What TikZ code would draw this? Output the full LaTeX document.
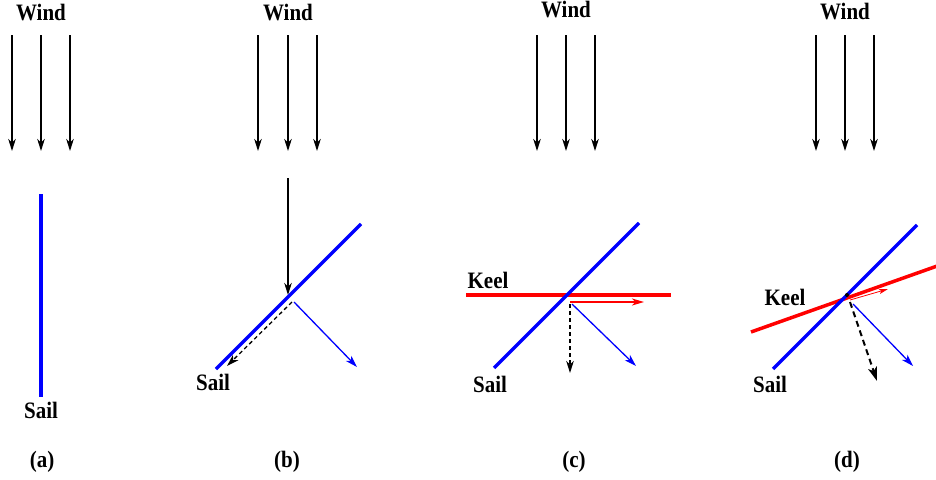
\documentclass[tikz,border=0pt]{standalone}
\usepackage{fontspec}
\usepackage{graphicx}
\setmainfont{Liberation Serif}
\usetikzlibrary{arrows.meta}
\newcommand{\tall}[1]{\scalebox{1}[1.12]{#1}}
\begin{document}
\begin{tikzpicture}[x=1pt,y=-1pt,
  lbl/.style={font=\fontsize{21}{25}\selectfont\bfseries, inner sep=0pt},
  windarrow/.style={draw=black, line width=1.4pt, -{Stealth[length=12pt,width=7.5pt,inset=3.5pt]}},
  sail/.style={draw=blue, line width=3.5pt},
  keel/.style={draw=red, line width=3.5pt},
  bluearrow/.style={draw=blue, line width=1.3pt, -{Stealth[length=12pt,width=7.5pt,inset=3.5pt]}},
  redarrow/.style={draw=red, line width=1.3pt, -{Stealth[length=12pt,width=7pt,inset=3.5pt]}},
  thinred/.style={draw=red, line width=0.8pt, -{Stealth[length=9pt,width=5pt,inset=2pt]}},
  dasharrow/.style={draw=black, line width=1.3pt, dash pattern=on 4pt off 3pt, -{Stealth[length=12pt,width=7.5pt,inset=3.5pt]}},
  thickdash/.style={draw=black, line width=2pt, dash pattern=on 6pt off 4pt, -{Stealth[length=14pt,width=9pt,inset=3.5pt]}}]
\useasboundingbox (0,0) rectangle (936,479);

% ---------- panel (a)
\node[lbl] (wa) at (41,13) {\tall{Wind}};
\foreach \x [count=\i] in {12,41,70} {
  \coordinate (a\i s) at (\x,35); \coordinate (a\i e) at (\x,151);
  \draw[windarrow] (a\i s) -- (a\i e);
}
\coordinate (asail1) at (41,194); \coordinate (asail2) at (41,397);
\draw[sail] (asail1) -- (asail2);
\node[lbl] (sa) at (41,410) {\tall{Sail}};
\node[lbl] (la) at (42,462) {\tall{(a)}};

% ---------- panel (b)
\node[lbl] (wb) at (288,13) {\tall{Wind}};
\foreach \x [count=\i] in {258,288,317} {
  \coordinate (b\i s) at (\x,35); \coordinate (b\i e) at (\x,151);
  \draw[windarrow] (b\i s) -- (b\i e);
}
\coordinate (bw1) at (288,178); \coordinate (bw2) at (288,295);
\draw[windarrow] (bw1) -- (bw2);
\coordinate (bsail1) at (216,369); \coordinate (bsail2) at (361,224);
\draw[sail] (bsail1) -- (bsail2);
\coordinate (bd1) at (292,302); \coordinate (bd2) at (227,366);
\draw[dasharrow] (bd1) -- (bd2);
\coordinate (bb1) at (294,302); \coordinate (bb2) at (357,367);
\draw[bluearrow] (bb1) -- (bb2);
\node[lbl] (sb) at (213,382) {\tall{Sail}};
\node[lbl] (lb) at (287,462) {\tall{(b)}};

% ---------- panel (c)
\node[lbl] (wc) at (566,10) {\tall{Wind}};
\foreach \x [count=\i] in {537,566,595} {
  \coordinate (c\i s) at (\x,35); \coordinate (c\i e) at (\x,151);
  \draw[windarrow] (c\i s) -- (c\i e);
}
\coordinate (ck1) at (466,295); \coordinate (ck2) at (671,295);
\draw[keel] (ck1) -- (ck2);
\coordinate (csail1) at (494,368); \coordinate (csail2) at (639,223);
\draw[sail] (csail1) -- (csail2);
\coordinate (cr1) at (570,302); \coordinate (cr2) at (644,302);
\draw[redarrow] (cr1) -- (cr2);
\coordinate (cd1) at (570,304); \coordinate (cd2) at (570,373);
\draw[dasharrow] (cd1) -- (cd2);
\coordinate (cb1) at (572,304); \coordinate (cb2) at (636,366);
\draw[bluearrow] (cb1) -- (cb2);
\node[lbl] (kc) at (488,280) {\tall{Keel}};
\node[lbl] (sc) at (490,384) {\tall{Sail}};
\node[lbl] (lc) at (574,462) {\tall{(c)}};

% ---------- panel (d)
\node[lbl] (wd) at (845,12) {\tall{Wind}};
\foreach \x [count=\i] in {816,845,874} {
  \coordinate (d\i s) at (\x,35); \coordinate (d\i e) at (\x,151);
  \draw[windarrow] (d\i s) -- (d\i e);
}
\coordinate (dk1) at (751,332); \coordinate (dk2) at (940,265);
\draw[keel] (dk1) -- (dk2);
\coordinate (dsail1) at (773,369); \coordinate (dsail2) at (917,225);
\draw[sail] (dsail1) -- (dsail2);
\coordinate (dc) at (847,295);
\fill[black] (dc) circle (2pt);
\coordinate (dr1) at (850,300); \coordinate (dr2) at (888,289);
\draw[thinred] (dr1) -- (dr2);
\coordinate (dd1) at (850,302); \coordinate (dd2) at (877,381);
\draw[thickdash] (dd1) -- (dd2);
\coordinate (db1) at (853,304); \coordinate (db2) at (913,366);
\draw[bluearrow] (db1) -- (db2);
\node[lbl] (kd) at (785,297) {\tall{Keel}};
\node[lbl] (sd) at (770,384) {\tall{Sail}};
\node[lbl] (ld) at (847,462) {\tall{(d)}};
\end{tikzpicture}
\end{document}
